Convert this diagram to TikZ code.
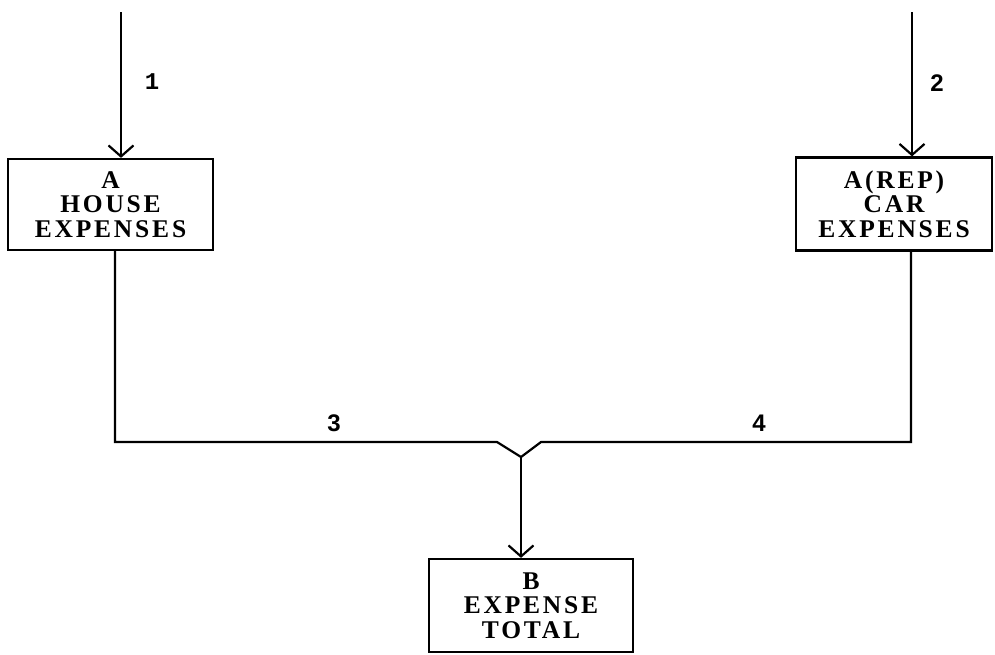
\documentclass[tikz,border=0pt]{standalone}
\usepackage{fontspec}
\usetikzlibrary{arrows.meta}
\newfontfamily\boxfont[LetterSpace=11]{Liberation Serif}
\newfontfamily\labfont{Liberation Sans}
\newfontfamily\labmono{Liberation Mono}
\tikzset{
  ln/.style={line width=2.2pt, line join=miter},
  arr/.style={ln, -{Straight Barb[length=11pt,width=25pt,line width=2.2pt]}},
  boxnode/.style={draw, line width=2.2pt, rectangle, inner sep=0pt, align=center,
    font=\boxfont\bfseries\fontsize{25.5}{24.5}\selectfont},
  lab/.style={font=\labfont\bfseries\fontsize{24}{24}\selectfont, inner sep=0pt}
}
\begin{document}
\begin{tikzpicture}[x=1pt,y=-1pt]
\useasboundingbox (0,0) rectangle (995,654);
\node[boxnode, minimum width=205pt, minimum height=91pt] (A) at (110.5,204.5) {A\\HOUSE\\EXPENSES};
\node[boxnode, minimum width=196pt, minimum height=93pt] (R) at (894,204) {A(REP)\\CAR\\EXPENSES};
\node[boxnode, minimum width=204pt, minimum height=93pt] (B) at (531,605.5) {B\\EXPENSE\\TOTAL};
\coordinate (t1) at (121,12);
\coordinate (t2) at (912,12);
\coordinate (c1) at (115,442);
\coordinate (v1) at (497,442);
\coordinate (v0) at (521,457);
\coordinate (v2) at (541,442);
\coordinate (c2) at (911,442);
\draw[arr] (t1) -- (A.north -| t1);
\draw[arr] (t2) -- (R.north -| t2);
\draw[ln] (A.south -| c1) -- (c1) -- (v1) -- (v0) -- (v2) -- (c2) -- (R.south -| c2);
\draw[arr] (v0) -- (B.north -| v0);
\node[lab, font=\labmono\bfseries\fontsize{24}{24}\selectfont] (l1) at (152,82) {1};
\node[lab] (l2) at (937,83) {2};
\node[lab] (l3) at (334,423) {3};
\node[lab] (l4) at (759,423) {4};
\end{tikzpicture}
\end{document}
